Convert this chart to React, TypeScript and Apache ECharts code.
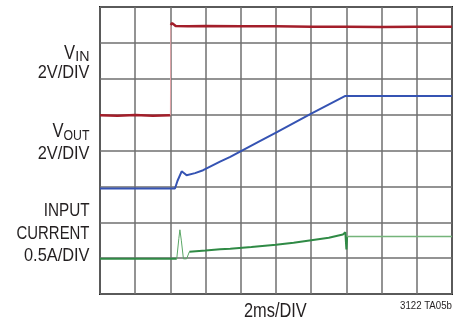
import React, { useEffect, useRef } from "react";
import * as echarts from "echarts";

// Oscilloscope capture: x in time divisions (2ms/DIV), y in screen divisions
const xDivisions = [0, 10];
const yDivisions = [0, 8];

// VIN trace (2V/DIV): before step, step edge, after step
const vinLow: [number, number][] = [
  [0, 4.98], [0.5, 4.97], [1.0, 4.99], [1.5, 4.97], [2.0, 4.98],
];
const vinEdge: [number, number][] = [
  [2.0, 4.98], [2.01, 7.5],
];
const vinHigh: [number, number][] = [
  [2.01, 7.5], [2.05, 7.55], [2.15, 7.47], [2.5, 7.46], [3.0, 7.47],
  [4.0, 7.46], [5.0, 7.46], [6.0, 7.45], [7.0, 7.45], [8.0, 7.44],
  [9.0, 7.45], [10.0, 7.45],
];

// VOUT trace (2V/DIV)
const voutData: [number, number][] = [
  [0, 2.94], [2.13, 2.94], [2.2, 3.15], [2.32, 3.42], [2.4, 3.36],
  [2.46, 3.31], [2.7, 3.37], [2.93, 3.45], [3.41, 3.69], [3.7, 3.82],
  [4.5, 4.24], [5.0, 4.5], [6.0, 5.03], [6.97, 5.52], [8.0, 5.52],
  [9.0, 5.52], [10.0, 5.52],
];

// Input current trace (0.5A/DIV): idle, inrush spike, soft-start ramp, steady tail
const iinIdle: [number, number][] = [
  [0, 0.98], [2.18, 0.98],
];
const iinSpike: [number, number][] = [
  [2.18, 0.98], [2.24, 1.55], [2.27, 1.79], [2.31, 1.5],
  [2.37, 0.98], [2.46, 0.98], [2.54, 1.18],
];
const iinRamp: [number, number][] = [
  [2.54, 1.18], [3.0, 1.21], [3.41, 1.25], [3.7, 1.26], [4.3, 1.31],
  [5.0, 1.37], [5.5, 1.43], [6.0, 1.5], [6.5, 1.57], [6.9, 1.66],
  [6.97, 1.72], [7.0, 1.24], [7.02, 1.6],
];
const iinTail: [number, number][] = [
  [7.02, 1.6], [8.0, 1.6], [9.0, 1.6], [10.0, 1.6],
];

const labelColor = "#231f20";

export default function App() {
  const ref = useRef<HTMLDivElement>(null);
  useEffect(() => {
    if (!ref.current) return;
    const chart = echarts.init(ref.current, undefined, { renderer: "svg" });
    const txt = (
      text: string,
      x: number,
      y: number,
      size: number,
      sx: number,
      align: string = "right"
    ) => ({
      type: "text",
      x,
      y,
      scaleX: sx,
      style: {
        text,
        font: `${size}px "Liberation Sans", Arial, sans-serif`,
        align,
        verticalAlign: "middle",
        fill: labelColor,
      },
    });
    const line = (data: [number, number][], color: string, width: number) => ({
      type: "line",
      data,
      showSymbol: false,
      lineStyle: { color, width },
      z: 3,
    });
    chart.setOption({
      animation: false,
      grid: {
        left: 100,
        top: 7,
        width: 352,
        height: 287,
        show: true,
        borderColor: "#1e1e1e",
        borderWidth: 2,
        backgroundColor: "transparent",
      },
      xAxis: {
        type: "value",
        min: xDivisions[0],
        max: xDivisions[1],
        interval: 1,
        axisLine: { show: false },
        axisTick: { show: false },
        axisLabel: { show: false },
        splitLine: { show: true, lineStyle: { color: "#6f6f6f", width: 1.5 } },
      },
      yAxis: {
        type: "value",
        min: yDivisions[0],
        max: yDivisions[1],
        interval: 1,
        axisLine: { show: false },
        axisTick: { show: false },
        axisLabel: { show: false },
        splitLine: { show: true, lineStyle: { color: "#6f6f6f", width: 1.5 } },
      },
      series: [
        line(vinLow, "#a31e2a", 2.5),
        line(vinEdge, "#e3a3a8", 1),
        line(vinHigh, "#a31e2a", 2.5),
        line(voutData, "#3553b3", 2),
        line(iinIdle, "#2f8a45", 2),
        line(iinSpike, "#5aa665", 1),
        line(iinRamp, "#2f8a45", 2),
        line(iinTail, "#74b47a", 1.5),
      ],
      graphic: [
        txt("V", 75, 52, 20, 0.83),
        txt("IN", 89.5, 56, 15, 0.95),
        txt("2V/DIV", 89.5, 72, 18, 0.91),
        txt("V", 63.5, 130, 20, 0.83),
        txt("OUT", 89.5, 135, 15, 0.82),
        txt("2V/DIV", 89.5, 153, 18, 0.91),
        txt("INPUT", 89.5, 210, 18, 0.85),
        txt("CURRENT", 89.5, 233, 18, 0.83),
        txt("0.5A/DIV", 89.5, 255, 18, 0.91),
        txt("2ms/DIV", 244, 310, 20, 0.82, "left"),
        txt("3122 TA05b", 452, 305, 10, 0.97),
      ],
    });
    return () => chart.dispose();
  }, []);
  return (
    <div
      ref={ref}
      style={{ position: "fixed", left: 0, top: 0, width: 460, height: 322 }}
    />
  );
}
